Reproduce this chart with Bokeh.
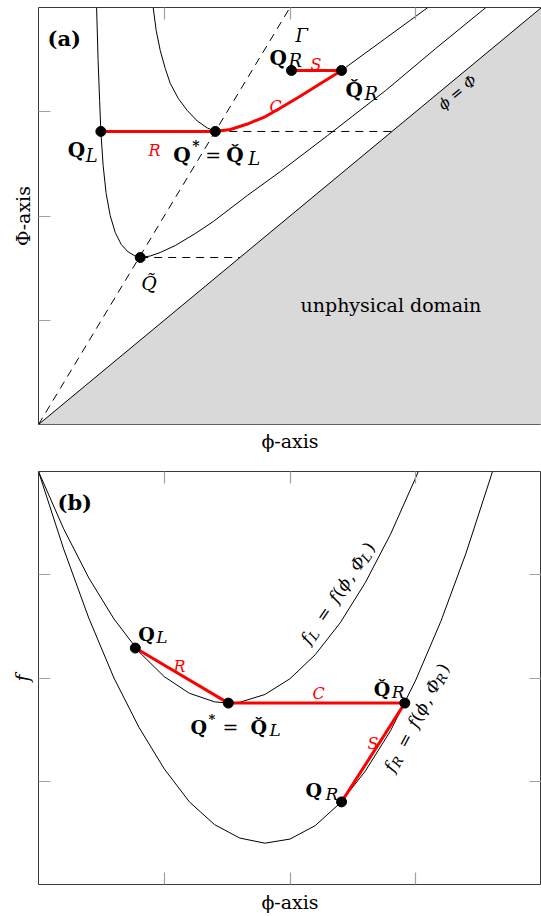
import math
from bokeh.plotting import figure
from bokeh.models import Range1d, FixedTicker, LinearAxis, Label
from bokeh.layouts import column
from bokeh.embed import file_html
from bokeh.resources import INLINE

SERIF = "DejaVu Serif"
RED = "#ff0000"
GREY = "#d9d9d9"

# ---------------- panel (a): (phi, Phi) state space ----------------
unphys_phi = [0.0, 4.0, 4.0]
unphys_Phi = [0.0, 4.0, 0.0]
diag_phi = [0.0, 4.0]
diag_Phi = [0.0, 4.0]
gamma_phi = [0.0, 2.0]
gamma_Phi = [0.0, 4.0]

a_curve1_phi = [0.462, 0.474, 0.486, 0.496, 0.514, 0.538, 0.570, 0.610, 0.658, 0.713, 0.761,
                0.809, 0.888, 0.968, 1.088, 1.247, 1.390, 1.661, 1.924, 2.299, 2.761, 3.159, 3.558]
a_curve1_Phi = [4.000, 3.492, 3.108, 2.811, 2.484, 2.216, 2.005, 1.842, 1.727, 1.655, 1.621,
                1.602, 1.616, 1.650, 1.717, 1.832, 1.947, 2.197, 2.427, 2.772, 3.204, 3.607, 4.000]
a_curve2_phi = [0.912, 0.936, 0.968, 1.008, 1.048, 1.112, 1.183, 1.263, 1.343, 1.406]
a_curve2_Phi = [4.000, 3.779, 3.588, 3.415, 3.271, 3.127, 3.012, 2.911, 2.844, 2.811]
a_contact_phi = [1.406, 1.526, 1.661, 1.805, 1.924, 2.084, 2.243, 2.410]
a_contact_Phi = [2.811, 2.830, 2.882, 2.954, 3.036, 3.151, 3.271, 3.396]
a_curve2_up_phi = [2.410, 2.753, 3.096]
a_curve2_up_Phi = [3.396, 3.698, 4.000]

a_QL = (0.496, 2.811)
a_Qstar = (1.406, 2.811)
a_QR = (2.012, 3.396)
a_QRc = (2.410, 3.396)
a_Qt = (0.809, 1.602)

# ---------------- panel (b): flux curves ----------------
b_fL_phi = [0.0, 0.2, 0.4, 0.6, 0.8, 1.0, 1.2, 1.4, 1.51, 1.6, 1.8, 2.0, 2.2, 2.4, 2.6, 2.8, 3.0, 3.02]
b_fL_f = [4.0, 3.445, 2.969, 2.572, 2.253, 2.013, 1.852, 1.769, 1.757, 1.765, 1.840, 1.993,
          2.225, 2.536, 2.926, 3.394, 3.941, 4.0]
b_fR_phi = [0.0, 0.2, 0.4, 0.6, 0.8, 1.0, 1.2, 1.4, 1.6, 1.8, 2.0, 2.2, 2.4, 2.6, 2.8, 3.0,
            3.2, 3.4, 3.6, 3.61]
b_fR_f = [4.0, 3.25, 2.58, 2.00, 1.52, 1.12, 0.80, 0.58, 0.45, 0.40, 0.44, 0.57, 0.79, 1.10,
          1.49, 1.98, 2.55, 3.21, 3.96, 4.0]

b_QL = (0.77, 2.29)
b_Qstar = (1.51, 1.757)
b_QRc = (2.913, 1.757)
b_QR = (2.41, 0.80)

TICKS = [1, 2, 3]

# ---------------- page geometry helpers (for annotation placement) ----------------
FX0, FW = 38.0, 503.0
A_TOP, A_BOT = 7.0, 424.0
B_TOP, B_BOT = 471.0, 887.0


def px_x(px):
    return (px - FX0) / (FW / 4.0)


def a_y(py):
    return (A_BOT - py) / ((A_BOT - A_TOP) / 4.0)


def b_y(py):
    return (B_BOT - py) / ((B_BOT - B_TOP) / 4.0)


def txt(p, x, y, text, size, style="normal", color="black", dx=0.0, dy=0.0,
        angle=0.0, align="left", baseline="alphabetic", font=SERIF):
    p.add_layout(Label(x=x, y=y, x_offset=dx, y_offset=-dy, text=text,
                       text_font=font, text_font_size=f"{size}px",
                       text_font_style=style, text_color=color, angle=angle,
                       text_align=align, text_baseline=baseline))


def rot_pieces(p, x, y, angle_deg, pieces):
    a = math.radians(angle_deg)
    ca, sa = math.cos(a), math.sin(a)
    for text, s, v, size, style in pieces:
        ox = s * ca - v * sa
        oy = s * sa + v * ca
        p.add_layout(Label(x=x, y=y, x_offset=ox, y_offset=oy, text=text,
                           text_font=SERIF, text_font_size=f"{size}px",
                           text_font_style=style, text_color="black", angle=a,
                           text_align="left", text_baseline="alphabetic"))


def style_axis(ax, ticks=True):
    ax.ticker = FixedTicker(ticks=TICKS)
    ax.major_tick_in = 12 if ticks else 0
    ax.major_tick_out = 0
    ax.major_tick_line_color = "#a0a0a0" if ticks else None
    ax.major_tick_line_width = 1.2
    ax.minor_tick_line_color = None
    ax.major_label_text_font_size = "0px"
    ax.major_label_text_color = None
    ax.major_label_standoff = 0
    ax.axis_line_color = None
    ax.axis_label_text_font = SERIF
    ax.axis_label_text_font_style = "normal"
    ax.axis_label_text_color = "black"


def make_fig(height, mbt, mbb):
    p = figure(width=541, height=height, x_range=Range1d(0, 4), y_range=Range1d(0, 4),
               output_backend="svg", toolbar_location=None,
               min_border_left=38, min_border_right=0,
               min_border_top=mbt, min_border_bottom=mbb)
    p.grid.visible = False
    p.outline_line_color = "#3a3a3a"
    p.outline_line_width = 1
    p.background_fill_color = "white"
    p.border_fill_color = "white"
    return p


# ======================= panel (a) =======================
pa = make_fig(457, 7, 33)
a_bottom = pa.below[0]
a_left = pa.left[0]
a_top = LinearAxis()
pa.add_layout(a_top, "above")
style_axis(a_bottom, ticks=False)
style_axis(a_left)
style_axis(a_top)
a_bottom.axis_label = "ϕ-axis"
a_bottom.axis_label_text_font_size = "19px"
a_bottom.axis_label_standoff = 5
a_left.axis_label = "Φ-axis"
a_left.axis_label_text_font_size = "19px"
a_left.axis_label_standoff = 5

pa.patch(unphys_phi, unphys_Phi, fill_color=GREY, line_color=None)
pa.line(diag_phi, diag_Phi, line_color="black", line_width=1)
pa.line(gamma_phi, gamma_Phi, line_color="black", line_width=1, line_dash="8 6")
pa.line(a_curve1_phi, a_curve1_Phi, line_color="black", line_width=1)
pa.line(a_curve2_phi, a_curve2_Phi, line_color="black", line_width=1)
pa.line(a_curve2_up_phi, a_curve2_up_Phi, line_color="black", line_width=1)
pa.line([a_Qt[0], a_Qt[1]], [a_Qt[1], a_Qt[1]], line_color="black", line_width=1, line_dash="8 6")
pa.line([a_Qstar[0], a_Qstar[1]], [a_Qstar[1], a_Qstar[1]], line_color="black", line_width=1,
        line_dash="8 6")
pa.line([a_QL[0], a_Qstar[0]], [a_QL[1], a_Qstar[1]], line_color=RED, line_width=3)
pa.line(a_contact_phi, a_contact_Phi, line_color=RED, line_width=3)
pa.line([a_QR[0], a_QRc[0]], [a_QR[1], a_QRc[1]], line_color=RED, line_width=3)
pa.scatter([a_QL[0], a_Qstar[0], a_QR[0], a_QRc[0], a_Qt[0]],
           [a_QL[1], a_Qstar[1], a_QR[1], a_QRc[1], a_Qt[1]],
           size=10, color="black")

txt(pa, px_x(47), a_y(38), "(a)", 21, "bold")
# Q_L
txt(pa, *a_QL, "Q", 20, "bold", dx=-33, dy=19)
txt(pa, *a_QL, "L", 18, "italic", dx=-15, dy=24)
txt(pa, px_x(148), a_y(150), "R", 16, "italic", RED)
# Q* = Q̌_L
txt(pa, *a_Qstar, "Q", 20, "bold", dx=-42, dy=24)
txt(pa, *a_Qstar, "*", 14, "bold", dx=-23, dy=15)
txt(pa, *a_Qstar, "=", 19, "normal", dx=-10, dy=24)
txt(pa, *a_Qstar, "Q\u030C", 20, "bold", dx=11, dy=24)
txt(pa, *a_Qstar, "L", 18, "italic", dx=33, dy=27)
txt(pa, px_x(269), a_y(106), "C", 16, "italic", RED)
# Q_R
txt(pa, *a_QR, "Q", 20, "bold", dx=-22, dy=-12)
txt(pa, *a_QR, "R", 18, "italic", dx=-3, dy=-10)
txt(pa, px_x(310), a_y(64), "S", 16, "italic", RED)
# Q̌_R
txt(pa, *a_QRc, "Q\u030C", 20, "bold", dx=4, dy=20)
txt(pa, *a_QRc, "R", 18, "italic", dx=23, dy=23)
# Gamma, Q tilde
txt(pa, px_x(295), a_y(35), "Γ", 18, "italic")
txt(pa, *a_Qt, "Q\u0303", 19, "italic", dx=1, dy=26)
txt(pa, px_x(457), a_y(92), "ϕ = Φ", 15, "italic", angle=math.atan2(417.0, 503.0),
    align="center", baseline="middle")
txt(pa, px_x(300), a_y(304), "unphysical domain", 19)

# ======================= panel (b) =======================
pb = make_fig(458, 14, 28)
b_bottom = pb.below[0]
b_left = pb.left[0]
b_top = LinearAxis()
b_right = LinearAxis()
pb.add_layout(b_top, "above")
pb.add_layout(b_right, "right")
for ax in (b_bottom, b_left, b_top, b_right):
    style_axis(ax)
b_bottom.axis_label = "ϕ-axis"
b_bottom.axis_label_text_font_size = "19px"
b_bottom.axis_label_standoff = 6
b_left.axis_label = "f"
b_left.axis_label_text_font_size = "19px"
b_left.axis_label_text_font_style = "italic"
b_left.axis_label_standoff = 6

pb.line(b_fL_phi, b_fL_f, line_color="black", line_width=1)
pb.line(b_fR_phi, b_fR_f, line_color="black", line_width=1)
pb.line([b_QL[0], b_Qstar[0]], [b_QL[1], b_Qstar[1]], line_color=RED, line_width=3)
pb.line([b_Qstar[0], b_QRc[0]], [b_Qstar[1], b_QRc[1]], line_color=RED, line_width=3)
pb.line([b_QR[0], b_QRc[0]], [b_QR[1], b_QRc[1]], line_color=RED, line_width=3)
pb.scatter([b_QL[0], b_Qstar[0], b_QRc[0], b_QR[0]],
           [b_QL[1], b_Qstar[1], b_QRc[1], b_QR[1]], size=10, color="black")

txt(pb, px_x(57), b_y(502), "(b)", 21, "bold")
txt(pb, *b_QL, "Q", 19, "bold", dx=3, dy=-14)
txt(pb, *b_QL, "L", 17, "italic", dx=21, dy=-11)
txt(pb, px_x(173), b_y(667), "R", 16, "italic", RED)
txt(pb, *b_Qstar, "Q", 19, "bold", dx=-38, dy=24)
txt(pb, *b_Qstar, "*", 13, "bold", dx=-20, dy=16)
txt(pb, *b_Qstar, "=", 19, "normal", dx=-6, dy=24)
txt(pb, *b_Qstar, "Q\u030C", 19, "bold", dx=22, dy=24)
txt(pb, *b_Qstar, "L", 17, "italic", dx=41, dy=27)
txt(pb, px_x(312), b_y(695), "C", 16, "italic", RED)
txt(pb, *b_QRc, "Q\u030C", 19, "bold", dx=-31, dy=-14)
txt(pb, *b_QRc, "R", 17, "italic", dx=-13, dy=-11)
txt(pb, px_x(367), b_y(745), "S", 16, "italic", RED)
txt(pb, *b_QR, "Q", 19, "bold", dx=-36, dy=-12)
txt(pb, *b_QR, "R", 17, "italic", dx=-16, dy=-8)

fL_pieces = [("f", 0, 0, 17, "italic"), ("L", 7, -4, 13, "italic"), ("=", 27, 0, 17, "normal"),
             ("f", 50, 0, 17, "italic"), ("(", 57, 0, 17, "normal"), ("ϕ", 64, 0, 17, "italic"),
             (",", 77, 0, 17, "normal"), ("Φ", 88, 0, 17, "italic"), ("L", 101, -4, 13, "italic"),
             (")", 112, 0, 17, "normal")]
fR_pieces = [("f", 0, 0, 17, "italic"), ("R", 7, -4, 13, "italic"), ("=", 27, 0, 17, "normal"),
             ("f", 50, 0, 17, "italic"), ("(", 57, 0, 17, "normal"), ("ϕ", 64, 0, 17, "italic"),
             (",", 77, 0, 17, "normal"), ("Φ", 88, 0, 17, "italic"), ("R", 101, -4, 13, "italic"),
             (")", 113, 0, 17, "normal")]
rot_pieces(pb, px_x(304), b_y(643), 56, fL_pieces)
rot_pieces(pb, px_x(388), b_y(772), 62, fR_pieces)

layout = column(pa, pb)
open("out.html", "w").write(file_html(layout, INLINE))
